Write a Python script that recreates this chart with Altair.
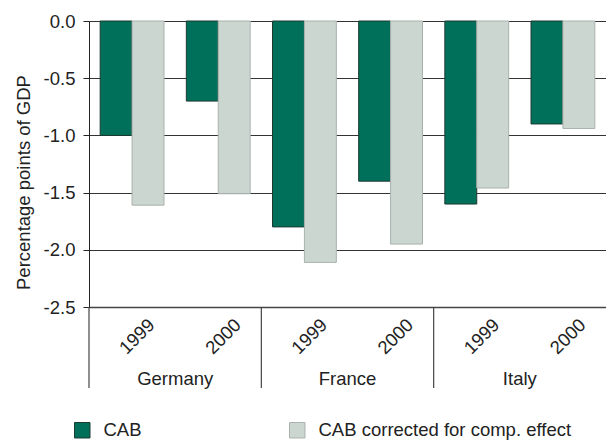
import altair as alt
import pandas as pd

countries = ["Germany", "Germany", "France", "France", "Italy", "Italy"]
years = ["1999", "2000", "1999", "2000", "1999", "2000"]
cab = [-1.0, -0.7, -1.8, -1.4, -1.6, -0.9]
cab_corrected = [-1.61, -1.51, -2.11, -1.95, -1.46, -0.94]
series_names = ["CAB", "CAB corrected for comp. effect"]
group_names = ["Germany", "France", "Italy"]

cats = [f"{c} {y}" for c, y in zip(countries, years)]
rows = []
for i, cat in enumerate(cats):
    rows.append({"cat": cat, "series": series_names[0], "value": cab[i]})
    rows.append({"cat": cat, "series": series_names[1], "value": cab_corrected[i]})
df = pd.DataFrame(rows)

groups = pd.DataFrame({
    "first": [f"{g} 1999" for g in group_names],
    "country": group_names,
})

FONT = "Liberation Sans"
FS = 18.5
GREEN = "#00705a"
LIGHT = "#cbd6d0"
TXT = "#222"

xscale = alt.Scale(domain=cats, paddingInner=0, paddingOuter=0)

bars = alt.Chart(df).mark_bar(strokeWidth=1).encode(
    x=alt.X("cat:N", scale=xscale, sort=cats, title=None,
            axis=alt.Axis(labelExpr="split(datum.label, ' ')[1]", labelAngle=-45,
                          labelAlign="center", labelBaseline="middle",
                          labelPadding=29, labelOffset=5, ticks=False,
                          domain=True, domainColor="#444", domainWidth=1.5,
                          labelFontSize=FS, labelColor=TXT, labelFont=FONT,
                          grid=False, labelOverlap=False)),
    xOffset=alt.XOffset("series:N", sort=series_names,
                        scale=alt.Scale(domain=series_names, paddingInner=0, paddingOuter=0.35)),
    y=alt.Y("value:Q", scale=alt.Scale(domain=[-2.5, 0], nice=False),
            title="Percentage points of GDP",
            axis=alt.Axis(values=[0, -0.5, -1.0, -1.5, -2.0, -2.5],
                          labelExpr="replace(format(datum.value, '.1f'), '\u2212', '-')",
                          grid=True, gridColor="#333", gridWidth=1,
                          domainColor="#222", domainWidth=1,
                          tickColor="#222", tickSize=6, labelPadding=8,
                          labelFontSize=FS, labelColor=TXT, labelFont=FONT,
                          titleFontSize=FS, titleColor=TXT, titleFont=FONT,
                          titleFontWeight="normal", titleAngle=-90,
                          titleAlign="center", titleBaseline="middle",
                          titleX=-66, titleY=161)),
    color=alt.Color("series:N", scale=alt.Scale(domain=series_names, range=[GREEN, LIGHT]),
                    title=None,
                    legend=alt.Legend(orient="none", legendX=-16, legendY=400,
                                      direction="horizontal", symbolType="square",
                                      symbolSize=240, symbolStrokeColor="#333",
                                      symbolStrokeWidth=1, symbolOpacity=1,
                                      labelFontSize=18.5, labelFont=FONT, labelColor=TXT,
                                      labelLimit=400,
                                      columnPadding=145, labelOffset=12)),
    stroke=alt.Stroke("series:N", scale=alt.Scale(domain=series_names,
                                                  range=["#1d3a31", "#a9b2ad"]),
                      legend=None),
)

seps = alt.Chart(groups).mark_rule(color="#444", strokeWidth=1.2).encode(
    x=alt.X("first:N", scale=xscale, bandPosition=0),
    y=alt.value(286),
    y2=alt.value(367),
)

labels = alt.Chart(groups).mark_text(fontSize=FS, font=FONT, color=TXT,
                                     baseline="middle", align="center").encode(
    x=alt.X("first:N", scale=xscale, bandPosition=1),
    y=alt.value(358),
    text="country:N",
)

chart = alt.layer(bars, seps, labels).properties(
    width=517, height=286,
    autosize=alt.AutoSizeParams(type="none"),
    padding={"left": 81, "top": 13, "right": 0, "bottom": 135},
).configure_view(stroke=None)

chart.save("out.html", embed_options={"renderer": "svg", "actions": False})
